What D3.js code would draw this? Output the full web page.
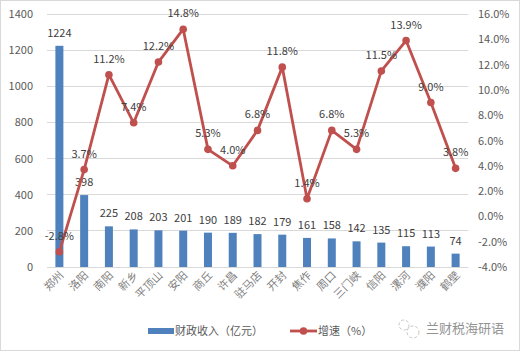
<!DOCTYPE html>
<html><head><meta charset="utf-8">
<script src="https://cdn.jsdelivr.net/npm/d3@7"></script>
<style>body{margin:0;background:#fff}svg{display:block}text{font-family:"Noto Sans CJK SC","Microsoft YaHei",sans-serif}</style>
</head><body>
<svg id="c" width="520" height="351"></svg>
<script>
const categories = ["郑州","洛阳","南阳","新乡","平顶山","安阳","商丘","许昌","驻马店","开封","焦作","周口","三门峡","信阳","漯河","濮阳","鹤壁"];
const revenue = [1224,398,225,208,203,201,190,189,182,179,161,158,142,135,115,113,74];
const growth = [-2.8,3.7,11.2,7.4,12.2,14.8,5.3,4.0,6.8,11.8,1.4,6.8,5.3,11.5,13.9,9.0,3.8];
const leftTicks = [0,200,400,600,800,1000,1200,1400];
const rightTicks = [-4,-2,0,2,4,6,8,10,12,14,16];
const seriesNames = ["财政收入（亿元）","增速（%）"];

const svg = d3.select("#c");
svg.append("rect").attr("x",0.5).attr("y",0.5).attr("width",519).attr("height",350).attr("fill","#fff").attr("stroke","#d9d9d9");
const L=47,R=468,T=14,B=267;
const x = d3.scaleBand().domain(categories).range([L,R]);
const yL = d3.scaleLinear().domain([0,1400]).range([B,T]);
const yR = d3.scaleLinear().domain([-4,16]).range([B,T]);

// grid
svg.append("g").selectAll("line").data(leftTicks).join("line")
  .attr("x1",L).attr("x2",R).attr("y1",d=>yL(d)).attr("y2",d=>yL(d))
  .attr("stroke","#d9d9d9").attr("stroke-width",1).attr("shape-rendering","crispEdges");

// left axis
const gl = svg.append("g").attr("transform",`translate(${L},0)`).call(d3.axisLeft(yL).tickValues(leftTicks).tickSize(0).tickPadding(14).tickFormat(d3.format("d")));
gl.select(".domain").remove();
gl.selectAll("text").attr("font-size",11).attr("fill","#595959").attr("font-family","Noto Sans CJK SC, sans-serif");
// right axis
const gr = svg.append("g").attr("transform",`translate(${R},0)`).call(d3.axisRight(yR).tickValues(rightTicks).tickSize(0).tickPadding(10).tickFormat(d=>d.toFixed(1)+"%"));
gr.select(".domain").remove();
gr.selectAll("text").attr("font-size",11).attr("fill","#595959").attr("font-family","Noto Sans CJK SC, sans-serif");

// bars
const bw = 8;
svg.append("g").selectAll("rect").data(revenue).join("rect")
  .attr("x",(d,i)=>x(categories[i])+x.bandwidth()/2-bw/2).attr("width",bw)
  .attr("y",d=>yL(d)).attr("height",d=>B-yL(d)).attr("fill","#4F81BD");

// x axis
const gx = svg.append("g").attr("transform",`translate(0,${B})`).call(d3.axisBottom(x).tickSize(0).tickPadding(0));
gx.select(".domain").attr("stroke","#d9d9d9");
gx.selectAll("text").attr("font-size",11).attr("fill","#7f7f7f").attr("text-anchor","end")
  .attr("dy",0).attr("transform","translate(5,9) rotate(-45)");

// bar labels
svg.append("g").selectAll("text").data(revenue).join("text")
  .attr("x",(d,i)=>x(categories[i])+x.bandwidth()/2).attr("y",d=>yL(d)-9)
  .attr("text-anchor","middle").attr("font-size",11).attr("fill","#404040").text(d=>d);

// line
const cx = i=>x(categories[i])+x.bandwidth()/2;
svg.append("path").datum(growth).attr("fill","none").attr("stroke","#C0504D").attr("stroke-width",2.8)
  .attr("stroke-linejoin","round").attr("d",d3.line().x((d,i)=>cx(i)).y(d=>yR(d)));
svg.append("g").selectAll("circle").data(growth).join("circle")
  .attr("cx",(d,i)=>cx(i)).attr("cy",d=>yR(d)).attr("r",3.8).attr("fill","#C0504D");
svg.append("g").selectAll("text").data(growth).join("text")
  .attr("x",(d,i)=>cx(i)).attr("y",d=>yR(d)-12)
  .attr("text-anchor","middle").attr("font-size",11).attr("fill","#404040").text(d=>d.toFixed(1)+"%");

// legend
const lg = svg.append("g");
lg.append("rect").attr("x",148).attr("y",328).attr("width",26).attr("height",6).attr("fill","#4F81BD");
lg.append("text").attr("x",175).attr("y",335).attr("font-size",11).attr("fill","#595959").text(seriesNames[0]);
lg.append("line").attr("x1",290).attr("x2",317).attr("y1",331).attr("y2",331).attr("stroke","#C0504D").attr("stroke-width",2.8);
lg.append("circle").attr("cx",303.5).attr("cy",331).attr("r",3.8).attr("fill","#C0504D");
lg.append("text").attr("x",318).attr("y",335).attr("font-size",11).attr("fill","#595959").text(seriesNames[1]);

// watermark
const wm = svg.append("g").attr("opacity",0.7);
wm.append("circle").attr("cx",404).attr("cy",325).attr("r",5).attr("fill","none").attr("stroke","#999").attr("stroke-width",0.8).attr("stroke-dasharray","3,2");
wm.append("circle").attr("cx",413).attr("cy",332).attr("r",6).attr("fill","none").attr("stroke","#999").attr("stroke-width",0.8).attr("stroke-dasharray","3,2");
wm.append("text").attr("x",426).attr("y",333).attr("font-size",13).attr("fill","#666").text("兰财税海研语");
</script>
</body></html>
